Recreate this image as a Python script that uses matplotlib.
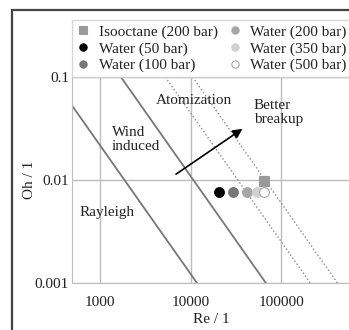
import numpy as np
import matplotlib
matplotlib.use("Agg")
import matplotlib.pyplot as plt
from matplotlib.patches import Rectangle

plt.rcParams['font.family'] = ['Liberation Serif', 'DejaVu Serif']
plt.rcParams['font.size'] = 11

# regime boundaries, read at Oh = 0.1 and Oh = 0.001
bound_oh = [0.1, 0.001]
rayleigh_re = [295, 11750]
wind_re = [1700, 67600]
atom1_re = [5250, 209000]
atom2_re = [10500, 417000]

# operating points
labels = ["Isooctane (200 bar)", "Water (50 bar)", "Water (100 bar)",
          "Water (200 bar)", "Water (350 bar)", "Water (500 bar)"]
pt_re = [64600, 20500, 29300, 42300, 54600, 64600]
pt_oh = [0.0098, 0.0077, 0.0077, 0.0077, 0.0077, 0.0077]
markers = ["s", "o", "o", "o", "o", "o"]
faces = ["#9a9a9a", "#000000", "#777777", "#a6a6a6", "#d0d0d0", "#ffffff"]
edges = ["#9a9a9a", "#000000", "#777777", "#a6a6a6", "#d0d0d0", "#a8a8a8"]

fig = plt.figure(figsize=(3.49, 3.30), dpi=100)
ax = fig.add_axes([0.206, 0.1424, 0.80, 0.6242])

# outer frame
fig.patches.append(Rectangle((12/349, -0.05), 1.2, 1 - 10/330 + 0.05, transform=fig.transFigure,
                             fill=False, edgecolor="#444444", lw=1.6))

ax.set_xscale("log")
ax.set_yscale("log")
ax.set_xlim(10**2.69, 10**5.77)
ax.set_ylim(0.001, 0.1)

ax.grid(True, which="major", color="#bdbdbd", lw=1.0)
ax.minorticks_off()
ax.set_xticks([1000, 10000, 100000])
ax.set_xticklabels(["1000", "10000", "100000"])
ax.set_yticks([0.001, 0.01, 0.1])
ax.set_yticklabels(["0.001", "0.01", "0.1"])
ax.tick_params(length=0, colors="#222222")
ax.tick_params(axis="x", pad=9)
ax.tick_params(axis="y", pad=2)
for s in ax.spines.values():
    s.set_color("#bdbdbd")

ax.plot(rayleigh_re, bound_oh, color="#777777", lw=1.3)
ax.plot(wind_re, bound_oh, color="#777777", lw=1.3)
ax.plot(atom1_re, bound_oh, color="#888888", lw=1.0, ls=":")
ax.plot(atom2_re, bound_oh, color="#888888", lw=1.0, ls=":")

handles = []
for i in range(len(labels)):
    h, = ax.plot(pt_re[i], pt_oh[i], marker=markers[i], ls="none", ms=7,
                 mfc=faces[i], mec=edges[i], mew=0.8, label=labels[i])
    handles.append(h)

ax.annotate("", xy=(39500, 0.0325), xytext=(6500, 0.011),
            arrowprops=dict(arrowstyle="-|>", color="#555555", lw=1.2,
                            mutation_scale=14, fc="black", ec="black"))

ax.text(10800, 0.0598, "Atomization", ha="center", va="center", color="#222222")
ax.text(49700, 0.0457, "Better\nbreakup", ha="left", va="center", linespacing=1.1, color="#222222")
ax.text(1360, 0.0245, "Wind\ninduced", ha="left", va="center", linespacing=1.1, color="#222222")
ax.text(600, 0.0048, "Rayleigh", ha="left", va="center", color="#222222")

ax.set_xlabel("Re / 1", labelpad=3, color="#222222")
ax.set_ylabel("Oh / 1", color="#222222")
ax.yaxis.set_label_coords(-0.13, 0.5)

leg = ax.legend(handles=handles, ncol=2, loc="lower left",
                bbox_to_anchor=(0.0, 1.0, 1.0, 0.3), mode="expand",
                frameon=True, fancybox=False, edgecolor="#cccccc",
                borderaxespad=0, handlelength=0.9, handletextpad=0.55,
                columnspacing=0.6, labelspacing=0.2, borderpad=0.3,
                markerscale=0.75)
for t in leg.get_texts():
    t.set_color("#222222")

fig.savefig("out.png", dpi=100)
